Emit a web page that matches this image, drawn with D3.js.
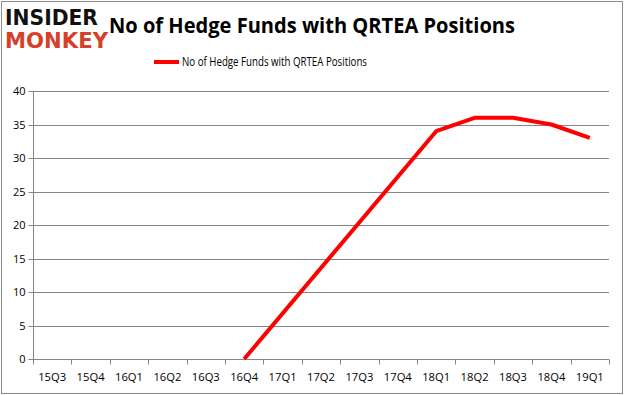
<!DOCTYPE html>
<html><head><meta charset="utf-8">
<script src="https://cdn.jsdelivr.net/npm/d3@7"></script>
<style>html,body{margin:0;padding:0;background:#fff;}svg{display:block;}</style>
</head><body>
<script>
const categories = ["15Q3","15Q4","16Q1","16Q2","16Q3","16Q4","17Q1","17Q2","17Q3","17Q4","18Q1","18Q2","18Q3","18Q4","19Q1"];
const values = [null,null,null,null,null,0,null,null,null,null,34,36,36,35,33];
const yTicks = [0,5,10,15,20,25,30,35,40];
const seriesName = "No of Hedge Funds with QRTEA Positions";
const titleText = "No of Hedge Funds with QRTEA Positions";

const W = 625, H = 395;
const m = {left:33, right:16, top:91, bottom:36};
const svg = d3.select("body").append("svg").attr("width",W).attr("height",H);
svg.append("rect").attr("x",1.5).attr("y",1.5).attr("width",W-4).attr("height",H-3)
  .attr("fill","#fff").attr("stroke","#8c8c8c").attr("stroke-width",1);

const x = d3.scaleBand().domain(categories).range([m.left, W-m.right]);
const y = d3.scaleLinear().domain([0,40]).range([H-m.bottom, m.top]);

const font = "'Open Sans', 'Noto Sans', sans-serif";

// gridlines
svg.append("g").selectAll("line").data(yTicks.filter(d=>d>0)).join("line")
  .attr("x1",m.left).attr("x2",W-m.right)
  .attr("y1",d=>Math.round(y(d))+0.5).attr("y2",d=>Math.round(y(d))+0.5)
  .attr("stroke","#868686").attr("stroke-width",1);

// y axis
const ya = svg.append("g").attr("transform",`translate(${m.left+0.5},0.5)`)
  .call(d3.axisLeft(y).tickValues(yTicks).tickSize(5).tickPadding(3).tickFormat(d3.format("d")));
ya.select(".domain").attr("stroke","#868686").attr("d",`M0,${Math.round(y(40))}V${Math.round(y(0))}`);
ya.selectAll(".tick line").attr("stroke","#868686");
ya.selectAll(".tick").attr("transform",d=>`translate(0,${Math.round(y(d))})`);
ya.selectAll("text").attr("font-family",font).attr("font-size",11).attr("fill","#000");

// x axis
const xa = svg.append("g").attr("transform",`translate(0,${Math.round(y(0))+0.5})`);
xa.append("line").attr("x1",m.left).attr("x2",W-m.right).attr("stroke","#868686");
const bounds = categories.map(c=>x(c)).concat([W-m.right]);
xa.selectAll("line.t").data(bounds).join("line").attr("class","t")
  .attr("x1",d=>Math.round(d)+0.5).attr("x2",d=>Math.round(d)+0.5).attr("y1",0).attr("y2",5)
  .attr("stroke","#868686");
xa.selectAll("text").data(categories).join("text")
  .attr("x",d=>x(d)+x.bandwidth()/2).attr("y",21)
  .attr("text-anchor","middle").attr("font-family",font).attr("font-size",11).attr("fill","#000")
  .attr("textLength",28).attr("lengthAdjust","spacingAndGlyphs")
  .text(d=>d);

// line
const pts = categories.map((c,i)=>({c, v:values[i]})).filter(d=>d.v!==null);
svg.append("path").datum(pts)
  .attr("d", d3.line().x(d=>x(d.c)+x.bandwidth()/2).y(d=>y(d.v)))
  .attr("fill","none").attr("stroke","#ff0000").attr("stroke-width",4).attr("stroke-linejoin","round");

// title
svg.append("text").attr("x",312).attr("y",33).attr("text-anchor","middle")
  .attr("font-family",font).attr("font-weight","bold").attr("font-size",20.5)
  .attr("textLength",406).attr("lengthAdjust","spacingAndGlyphs")
  .attr("fill","#000").text(titleText);

// legend
svg.append("line").attr("x1",154).attr("x2",179).attr("y1",62).attr("y2",62)
  .attr("stroke","#ff0000").attr("stroke-width",4);
svg.append("text").attr("x",182).attr("y",66).attr("font-family",font).attr("font-size",12)
  .attr("textLength",185).attr("lengthAdjust","spacingAndGlyphs")
  .attr("fill","#000").text(seriesName);

// logo
svg.append("text").attr("x",5).attr("y",25).attr("font-family","'DejaVu Sans', sans-serif")
  .attr("font-weight","bold").attr("font-size",21).attr("textLength",93).attr("lengthAdjust","spacingAndGlyphs")
  .attr("fill","#111").text("INSIDER");
svg.append("text").attr("x",5).attr("y",48).attr("font-family","'DejaVu Sans', sans-serif")
  .attr("font-weight","bold").attr("font-size",21).attr("textLength",103).attr("lengthAdjust","spacingAndGlyphs")
  .attr("fill","#d6402b").text("MONKEY");
</script>
</body></html>
